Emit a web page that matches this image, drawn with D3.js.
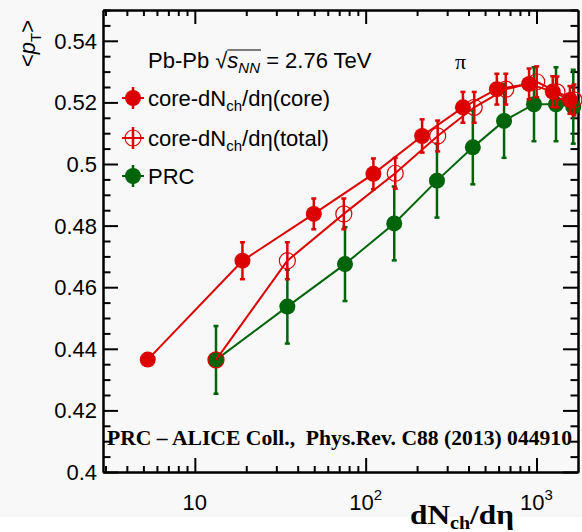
<!DOCTYPE html>
<html>
<head>
<meta charset="utf-8">
<script src="https://d3js.org/d3.v7.min.js"></script>
<style>
    body { margin: 0; background: #f8f8f8; }
    svg { display: block; font-family: "Liberation Sans", Arial, sans-serif; }
    .axis path, .axis line { stroke: #000; stroke-width: 2; }
</style>
</head>
<body>
<svg width=582 height=532></svg>
<script>
    // values
    const coreX = [5.3, 19.0, 49.7, 111, 214, 371, 586, 905, 1245, 1570];
    const coreY = [0.4365, 0.4686, 0.4838, 0.4968, 0.5091, 0.5184, 0.5243, 0.526, 0.5235, 0.5208];
    const coreErr = [0, 0.006, 0.005, 0.005, 0.0054, 0.005, 0.005, 0.005, 0.005, 0.0045];

    const totalX = [13.3, 34.8, 74.5, 149, 264, 432, 661, 1003, 1318, 1657];
    const totalY = [0.4364, 0.4686, 0.4838, 0.497, 0.5091, 0.5184, 0.5243, 0.5267, 0.5234, 0.5208];
    const totalErr = [0, 0.006, 0.005, 0.005, 0.005, 0.005, 0.005, 0.005, 0.005, 0.005];

    const prcX = [13.3, 34.8, 75.7, 147, 261.5, 424, 646, 967, 1301, 1642];
    const prcY = [0.4364, 0.4537, 0.4675, 0.4807, 0.4946, 0.5054, 0.514, 0.5194, 0.5194, 0.5186];
    const prcErr = [0.011, 0.012, 0.012, 0.012, 0.012, 0.012, 0.012, 0.012, 0.012, 0.012];

    const yTicks = [0.40, 0.42, 0.44, 0.46, 0.48, 0.50, 0.52, 0.54];
    const yLabels = ['0.4', '0.42', '0.44', '0.46', '0.48', '0.5', '0.52', '0.54'];
    const xTicks = [10, 100, 1000];
    const xExp = ['', '2', '3'];

    const RED = '#dc0000', GREEN = '#00640a';
    const pL = 103, pR = 578, pT = 10, pB = 472;

    const svg = d3.select('svg');
    svg.append('rect').attr('x', 0).attr('y', 517).attr('width', 582).attr('height', 15).attr('fill', '#fff');

    var x = d3.scaleLog().domain([2.9, 1750]).range([pL, pR]);
    var y = d3.scaleLinear().domain([0.4, 0.55]).range([pB, pT]);

    var xMinor = [];
    [1, 10, 100].forEach(function (d) {
        for (let k = 2; k <= 9; k++) xMinor.push(k * d);
    });
    xMinor = xMinor.filter(function (v) { return v > 2.9 && v < 1750 && xTicks.indexOf(v) < 0; });
    var yMinor = d3.range(0.405, 0.5501, 0.005).filter(function (v) {
        return Math.abs(Math.round(v * 50) - v * 50) > 0.01;
    });

    function axis(gen, tr) {
        svg.append('g').attr('class', 'axis').attr('transform', tr).call(gen);
    }
    // major + minor ticks on all four sides, pointing inward
    axis(d3.axisBottom(x).tickValues(xTicks).tickSize(-14).tickSizeOuter(0).tickFormat(''), `translate(0,${pB})`);
    axis(d3.axisBottom(x).tickValues(xMinor).tickSize(-6).tickSizeOuter(0).tickFormat(''), `translate(0,${pB})`);
    axis(d3.axisTop(x).tickValues(xTicks).tickSize(-14).tickSizeOuter(0).tickFormat(''), `translate(0,${pT})`);
    axis(d3.axisTop(x).tickValues(xMinor).tickSize(-6).tickSizeOuter(0).tickFormat(''), `translate(0,${pT})`);
    axis(d3.axisLeft(y).tickValues(yTicks).tickSize(-15).tickSizeOuter(0).tickFormat(''), `translate(${pL},0)`);
    axis(d3.axisLeft(y).tickValues(yMinor).tickSize(-7.5).tickSizeOuter(0).tickFormat(''), `translate(${pL},0)`);
    axis(d3.axisRight(y).tickValues(yTicks).tickSize(-15).tickSizeOuter(0).tickFormat(''), `translate(${pR},0)`);
    axis(d3.axisRight(y).tickValues(yMinor).tickSize(-7.5).tickSizeOuter(0).tickFormat(''), `translate(${pR},0)`);

    // y tick labels
    svg.append('g').selectAll('text').data(yTicks).enter().append('text')
        .attr('x', 97).attr('y', function (d) { return y(d) + 8; })
        .attr('text-anchor', 'end').style('font-size', '22px')
        .text(function (d, i) { return yLabels[i]; });

    // x tick labels (10, 10^2, 10^3)
    var xl = svg.append('g').selectAll('text').data(xTicks).enter().append('text')
        .attr('x', function (d) { return x(d); }).attr('y', 510)
        .attr('text-anchor', 'middle').style('font-size', '22px');
    xl.append('tspan').text('10');
    xl.append('tspan').attr('dy', -10).style('font-size', '15px')
        .text(function (d, i) { return xExp[i]; });

    // axis titles
    var xt = svg.append('text').attr('x', 410).attr('y', 524)
        .attr('textLength', 104).attr('lengthAdjust', 'spacingAndGlyphs')
        .style('font-family', '"Liberation Serif", "Times New Roman", serif')
        .style('font-weight', 'bold').style('font-size', '28px');
    xt.append('tspan').text('dN');
    xt.append('tspan').attr('dy', 5).style('font-size', '18px').text('ch');
    xt.append('tspan').attr('dy', -5).text('/d\u03b7');

    var yt = svg.append('text').attr('transform', 'translate(35,67) rotate(-90)').style('font-size', '22px');
    yt.append('tspan').text('<');
    yt.append('tspan').style('font-style', 'italic').text('p');
    yt.append('tspan').attr('dy', 6).style('font-size', '15px').text('T');
    yt.append('tspan').attr('dy', -6).text('>');

    // series
    function drawSeries(xs, ys, es, color, open) {
        var pts = xs.map(function (v, i) { return { x: v, y: ys[i], e: es[i] }; });
        var g = svg.append('g');
        g.append('path').datum(pts)
            .attr('d', d3.line().x(function (d) { return x(d.x); }).y(function (d) { return y(d.y); }))
            .attr('fill', 'none').attr('stroke', color).attr('stroke-width', 2);
        var bars = g.selectAll('.bar').data(pts.filter(function (d) { return d.e > 0; })).enter().append('g');
        bars.append('line')
            .attr('x1', function (d) { return x(d.x); }).attr('x2', function (d) { return x(d.x); })
            .attr('y1', function (d) { return y(d.y - d.e); }).attr('y2', function (d) { return y(d.y + d.e); })
            .attr('stroke', color).attr('stroke-width', 2.5);
        [-1, 1].forEach(function (s) {
            bars.append('line')
                .attr('x1', function (d) { return x(d.x) - 2.5; }).attr('x2', function (d) { return x(d.x) + 2.5; })
                .attr('y1', function (d) { return y(d.y + s * d.e); }).attr('y2', function (d) { return y(d.y + s * d.e); })
                .attr('stroke', color).attr('stroke-width', 2.5);
        });
        g.selectAll('circle').data(pts).enter().append('circle')
            .attr('cx', function (d) { return x(d.x); }).attr('cy', function (d) { return y(d.y); })
            .attr('r', 8)
            .attr('fill', open ? 'none' : color)
            .attr('stroke', color).attr('stroke-width', open ? 1.2 : 0);
    }
    drawSeries(prcX, prcY, prcErr, GREEN, false);
    drawSeries(totalX, totalY, totalErr, RED, true);
    drawSeries(coreX, coreY, coreErr, RED, false);

    // legend
    var lg = svg.append('g');
    var head = lg.append('text').attr('x', 148).attr('y', 68).style('font-size', '22px');
    head.append('tspan').text('Pb-Pb ');
    head.append('tspan').text('\u221a');
    head.append('tspan').style('font-style', 'italic').text('s');
    head.append('tspan').attr('dy', 5).style('font-size', '15px').style('font-style', 'italic').text('NN');
    head.append('tspan').attr('dy', -5).text(' = 2.76 TeV');
    var hn = head.node();
    var r0 = hn.getEndPositionOfChar(6).x, r1 = hn.getEndPositionOfChar(9).x;
    lg.append('line').attr('x1', r0).attr('x2', r1 + 1).attr('y1', 50).attr('y2', 50)
        .attr('stroke', '#000').attr('stroke-width', 1.2);

    lg.append('text').attr('x', 455).attr('y', 69)
        .style('font-family', '"Liberation Serif", "Times New Roman", serif').style('font-size', '22px')
        .text('\u03c0');

    var entries = [
        { y: 98, color: RED, open: false, label: ['core-dN', 'ch', '/d\u03b7(core)'] },
        { y: 138, color: RED, open: true, label: ['core-dN', 'ch', '/d\u03b7(total)'] },
        { y: 176, color: GREEN, open: false, label: ['PRC', '', ''] }
    ];
    entries.forEach(function (e) {
        var m = lg.append('g').attr('transform', `translate(133,${e.y})`);
        m.append('line').attr('x1', -11).attr('x2', 11).attr('stroke', e.color).attr('stroke-width', 2);
        m.append('line').attr('y1', -11).attr('y2', 11).attr('stroke', e.color).attr('stroke-width', 2.5);
        m.append('circle').attr('r', 8)
            .attr('fill', e.open ? 'none' : e.color).attr('stroke', e.color).attr('stroke-width', e.open ? 1.2 : 0);
        var t = lg.append('text').attr('x', 148).attr('y', e.y + 8).style('font-size', '22px');
        t.append('tspan').text(e.label[0]);
        if (e.label[1]) {
            t.append('tspan').attr('dy', 5).style('font-size', '15px').text(e.label[1]);
            t.append('tspan').attr('dy', -5).text(e.label[2]);
        }
    });

    // reference note
    svg.append('text').attr('x', 107).attr('y', 445)
        .attr('textLength', 465).attr('lengthAdjust', 'spacingAndGlyphs')
        .style('white-space', 'pre')
        .style('font-family', '"Liberation Serif", "Times New Roman", serif')
        .style('font-weight', 'bold').style('font-size', '21px')
        .text('PRC \u2013 ALICE Coll.,  Phys.Rev. C88 (2013) 044910');
</script>
</body>
</html>
